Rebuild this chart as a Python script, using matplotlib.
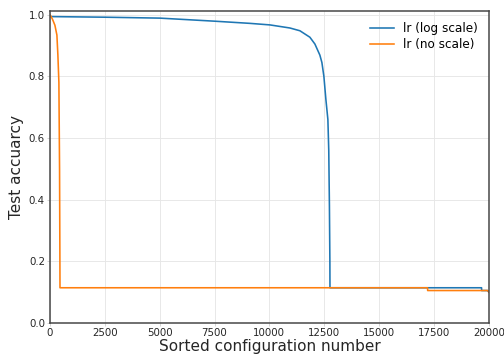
import matplotlib
matplotlib.use("Agg")
import matplotlib.pyplot as plt

# ==============================
# DATA
# ==============================
log_x = [0, 2500, 5011, 7517, 9112, 10023, 10934, 11390, 11845, 12073,
         12300, 12392, 12483, 12574, 12665, 12705, 12735, 12756, 12760,
         19667, 19670, 19940, 20000]
log_y = [0.994, 0.992, 0.989, 0.979, 0.972, 0.967, 0.957, 0.948, 0.927, 0.905,
         0.869, 0.845, 0.800, 0.725, 0.660, 0.560, 0.380, 0.200, 0.114,
         0.114, 0.105, 0.105, 0.100]

noscale_x = [0, 46, 120, 228, 319, 364, 410, 440, 456, 460,
             17207, 17210, 19941, 20000]
noscale_y = [1.0, 0.995, 0.985, 0.966, 0.934, 0.869, 0.780, 0.500, 0.200, 0.114,
             0.114, 0.105, 0.105, 0.100]

x_ticks = [0, 2500, 5000, 7500, 10000, 12500, 15000, 17500, 20000]
y_ticks = [0.0, 0.2, 0.4, 0.6, 0.8, 1.0]


def main():
    fig = plt.figure(figsize=(504 / 72, 356 / 72), dpi=72)
    ax = fig.add_axes([0.099, 0.093, 0.871, 0.876])

    ax.plot(log_x, log_y, color="#1f77b4", lw=1.6, label="lr (log scale)")
    ax.plot(noscale_x, noscale_y, color="#ff7f0e", lw=1.6, label="lr (no scale)")

    ax.set_xlim(0, 20000)
    ax.set_ylim(0, 1.012)
    ax.set_xticks(x_ticks)
    ax.set_yticks(y_ticks)
    ax.set_yticklabels([f"{v:.1f}" for v in y_ticks])

    ax.grid(True, color="#e6e6e6", lw=0.9)
    ax.set_axisbelow(True)
    for sp in ax.spines.values():
        sp.set_color("#444444")
        sp.set_linewidth(1.5)
    ax.tick_params(axis="both", labelsize=10.3, color="#cccccc", length=3,
                   width=0.8, labelcolor="#262626", pad=2)

    ax.set_xlabel("Sorted configuration number", fontsize=15.3, color="#262626",
                  labelpad=1)
    ax.set_ylabel("Test accuarcy", fontsize=15.3, color="#262626", labelpad=5)

    ax.legend(loc="upper right", frameon=False, fontsize=12, handlelength=2.0,
              borderaxespad=0.5, labelspacing=0.3)

    fig.savefig("out.png", dpi=72)


if __name__ == "__main__":
    main()
